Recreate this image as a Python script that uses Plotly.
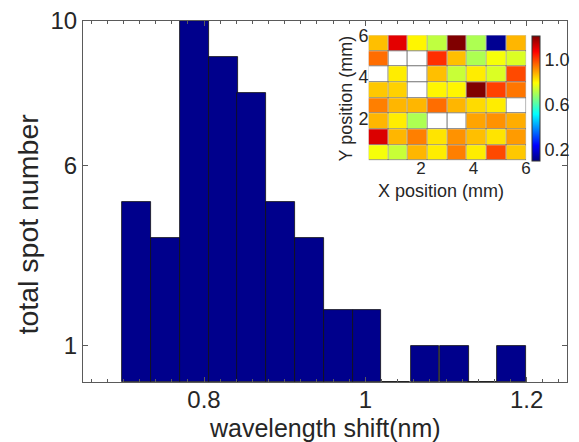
import plotly.graph_objects as go

# ---------------- histogram data ----------------
bin_centers = [0.716, 0.752, 0.788, 0.824, 0.859, 0.895, 0.931,
               0.967, 1.002, 1.038, 1.074, 1.110, 1.145, 1.181]
spot_counts = [5, 4, 10, 9, 8, 5, 4, 2, 2, 0, 1, 1, 0, 1]
bin_width = 0.0358

x_tick_vals = [0.8, 1.0, 1.2]
x_tick_text = ["0.8", "1", "1.2"]
y_tick_vals = [1, 6, 10]
y_tick_text = ["1", "6", "10"]

x_title = "wavelength shift(nm)"
y_title = "total spot number"

# ---------------- inset map data (rows listed top -> bottom) ----------------
map_x = [0.375, 1.125, 1.875, 2.625, 3.375, 4.125, 4.875, 5.625]
map_y = [5.625, 4.875, 4.125, 3.375, 2.625, 1.875, 1.125, 0.375]
N = None
map_z = [
    [0.87, 1.11, 0.81, 0.73, 1.22, 0.71, 0.12, 0.88],
    [0.96, N,    N,    1.03, 0.87, 0.71, 0.79, 0.76],
    [N,    0.82, N,    0.87, 0.74, 0.82, 0.76, 1.00],
    [0.86, 0.85, N,    0.81, 0.81, 1.22, 1.01, 0.95],
    [0.94, 0.88, 0.88, 0.96, 0.88, 0.84, 0.82, N],
    [0.88, 0.82, 0.71, N,    N,    0.90, 0.92, 0.89],
    [1.12, 0.88, 0.94, 0.83, 0.92, 0.87, 0.83, 0.91],
    [0.79, 0.74, 0.88, 0.82, 0.94, 0.82, 1.00, 0.86],
]
map_tick_vals = [2, 4, 6]
map_x_title = "X position (mm)"
map_y_title = "Y position (mm)"
cbar_tick_vals = [0.2, 0.6, 1.0]
cbar_tick_text = ["0.2", "0.6", "1.0"]

jet = [[0.0, "rgb(0,0,128)"], [0.125, "rgb(0,0,255)"], [0.375, "rgb(0,255,255)"],
       [0.625, "rgb(255,255,0)"], [0.875, "rgb(255,0,0)"], [1.0, "rgb(128,0,0)"]]

FONT = "Liberation Sans, Arial, sans-serif"
TXT = "#262626"
AX = "#5a5a5a"

fig = go.Figure()

fig.add_trace(go.Bar(
    x=bin_centers, y=spot_counts, width=bin_width,
    marker=dict(color="rgb(0,0,140)", line=dict(color="#111", width=0.8)),
    xaxis="x", yaxis="y", showlegend=False, hoverinfo="skip",
))

ones = [[1] * len(map_x) for _ in map_y]
fig.add_trace(go.Heatmap(
    x=map_x, y=map_y, z=ones, colorscale=[[0, "#707070"], [1, "#707070"]],
    showscale=False, hoverinfo="skip", xaxis="x2", yaxis="y2",
))
fig.add_trace(go.Heatmap(
    x=map_x, y=map_y, z=ones, colorscale=[[0, "white"], [1, "white"]],
    showscale=False, hoverinfo="skip", xgap=1, ygap=1, xaxis="x2", yaxis="y2",
))
fig.add_trace(go.Heatmap(
    x=map_x, y=map_y, z=map_z, colorscale=jet, zmin=0.1, zmax=1.22,
    xgap=1, ygap=1, xaxis="x2", yaxis="y2", hoverinfo="skip",
    colorbar=dict(
        x=0.928, xanchor="left", xref="paper", y=0.6135, yanchor="bottom",
        len=0.347, lenmode="fraction", thickness=8, xpad=0, ypad=0,
        outlinewidth=1, outlinecolor="#333",
        tickvals=cbar_tick_vals, ticktext=cbar_tick_text, ticks="",
        tickfont=dict(family=FONT, size=18, color=TXT),
    ),
))

fig.update_layout(
    width=579, height=442, autosize=False,
    margin=dict(l=83, r=7, t=19, b=60),
    paper_bgcolor="white", plot_bgcolor="white",
    bargap=0,
    font=dict(family=FONT, color=TXT),
    xaxis=dict(
        range=[0.65, 1.25], tickvals=x_tick_vals, ticktext=x_tick_text,
        ticks="inside", ticklen=5, tickcolor=AX, showline=True, linecolor=AX,
        linewidth=1, mirror="ticks", showgrid=False, zeroline=False,
        minor=dict(dtick=0.02, tick0=0.0, ticks="inside", ticklen=3, tickcolor=AX, showgrid=False),
        tickfont=dict(size=24, color=TXT), ticklabelstandoff=-4,
    ),
    yaxis=dict(
        range=[0, 10], tickvals=y_tick_vals, ticktext=y_tick_text,
        ticks="inside", ticklen=5, tickcolor=AX, showline=True, linecolor=AX,
        linewidth=1, mirror="ticks", showgrid=False, zeroline=False,
        tickfont=dict(size=24, color=TXT),
    ),
    xaxis2=dict(
        domain=[0.590, 0.9155], anchor="y2", range=[0, 6], tickvals=map_tick_vals,
        ticks="", showline=False, showgrid=False, zeroline=False,
        tickfont=dict(size=17, color=TXT), ticklabelstandoff=-5,
    ),
    yaxis2=dict(
        domain=[0.6135, 0.9606], anchor="x2", range=[0, 6], tickvals=map_tick_vals,
        ticks="", showline=False, showgrid=False, zeroline=False,
        tickfont=dict(size=18, color=TXT), ticklabelstandoff=-1,
    ),
    annotations=[
        dict(text=x_title, xref="paper", yref="paper", x=0.499, y=-0.1267,
             xanchor="center", yanchor="middle", showarrow=False,
             font=dict(size=25, color=TXT)),
        dict(text=y_title, xref="paper", yref="paper", x=-0.1145, y=0.438,
             xanchor="center", yanchor="middle", textangle=-90, showarrow=False,
             font=dict(size=28.5, color=TXT)),
        dict(text=map_x_title, xref="paper", yref="paper", x=0.740, y=0.530,
             xanchor="center", yanchor="middle", showarrow=False,
             font=dict(size=18, color=TXT)),
        dict(text=map_y_title, xref="paper", yref="paper", x=0.543, y=0.785,
             xanchor="center", yanchor="middle", textangle=-90, showarrow=False,
             font=dict(size=18, color=TXT)),
    ],
)

fig.write_html("out.html", config={"displayModeBar": False},
               post_script="document.body.style.margin='0px';")
